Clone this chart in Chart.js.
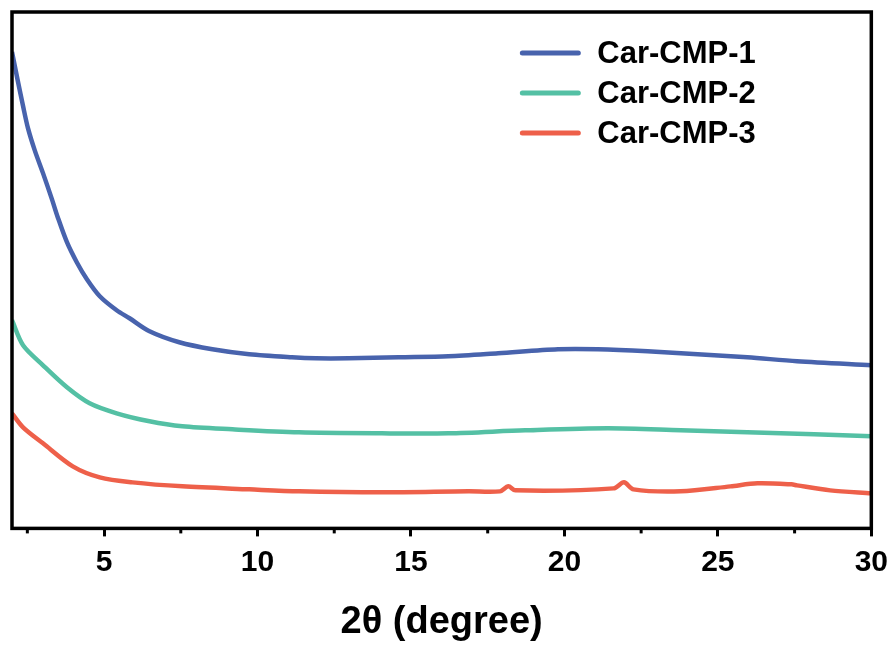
<!DOCTYPE html>
<html>
<head>
<meta charset="utf-8">
<script src="https://cdn.jsdelivr.net/npm/chart.js@4"></script>
<style>
  html, body { margin: 0; padding: 0; background: #fff; }
  #wrap { width: 896px; height: 645px; }
</style>
</head>
<body>
<div id="wrap"><canvas id="xrd-chart" width="896" height="645"></canvas></div>
<script>
// 2theta positions (degree) and intensity (a.u.)
const cmp1Theta = [2.0, 2.19, 2.36, 2.52, 2.75, 3.01, 3.3, 3.49, 3.79, 4.11, 4.44, 4.86, 5.41, 5.83, 6.48, 7.45, 8.53, 9.73, 11.12, 11.9, 12.97, 14.6, 16.22, 17.84, 19.79, 21.09, 22.71, 24.34, 25.96, 27.58, 30.0];
const cmp1Int   = [476, 447, 422, 400, 377, 355, 329, 311, 286, 266, 249, 232, 218, 210, 197, 186, 179, 174, 171, 170, 170, 171, 172, 175, 179, 179, 177, 174, 171, 167, 163];

const cmp2Theta = [2.0, 2.36, 3.01, 3.79, 4.53, 5.41, 6.48, 7.55, 9.18, 11.35, 14.05, 16.22, 18.72, 21.42, 23.79, 25.96, 28.14, 30.0];
const cmp2Int   = [208, 183, 163, 141, 125, 115, 107, 102, 99, 96, 95, 95, 98, 100, 98, 96, 94, 92];

const cmp3Theta = [2.0, 2.36, 3.01, 3.98, 4.86, 5.93, 7.55, 9.73, 11.35, 14.05, 16.87, 17.9, 18.17, 18.4, 21.6, 21.94, 22.25, 23.79, 25.41, 26.29, 27.4, 27.58, 28.66, 30.0];
const cmp3Int   = [115, 101, 85, 62, 51, 46, 42, 39, 37, 36, 37, 37, 42, 38, 40, 46, 39, 37, 42, 45, 44, 43, 38, 35];

const seriesNames = ["Car-CMP-1", "Car-CMP-2", "Car-CMP-3"];
const seriesColors = ["#4863ad", "#54c0a4", "#ee604a"];
const xTicks = [5, 10, 15, 20, 25, 30];
const xMinorTicks = [2.5, 7.5, 12.5, 17.5, 22.5, 27.5];

function toPoints(xs, ys) {
  return xs.map((x, i) => ({ x, y: ys[i] }));
}

const frameAndLegend = {
  id: "frameAndLegend",
  afterDraw(chart) {
    const { ctx, chartArea } = chart;
    const xScale = chart.scales.x;
    ctx.save();
    // minor ticks
    ctx.strokeStyle = "#000";
    ctx.lineWidth = 3;
    xMinorTicks.forEach((v) => {
      const px = xScale.getPixelForValue(v);
      ctx.beginPath();
      ctx.moveTo(px, chartArea.bottom);
      ctx.lineTo(px, chartArea.bottom + 5);
      ctx.stroke();
    });
    // box
    ctx.lineWidth = 3.5;
    ctx.strokeRect(chartArea.left, chartArea.top, chartArea.right - chartArea.left, chartArea.bottom - chartArea.top);

    // legend
    const x0 = chartArea.right - 349;
    ctx.font = "bold 31px Arial, 'Liberation Sans', sans-serif";
    ctx.textBaseline = "middle";
    ctx.lineCap = "round";
    chart.data.datasets.forEach((ds, i) => {
      const y = 53 + i * 40;
      ctx.strokeStyle = ds.borderColor;
      ctx.lineWidth = 5;
      ctx.beginPath();
      ctx.moveTo(x0, y);
      ctx.lineTo(x0 + 56, y);
      ctx.stroke();
      ctx.fillStyle = "#000";
      ctx.fillText(ds.label, x0 + 75, y + 1);
    });
    ctx.restore();
  },
};

const datasets = [
  toPoints(cmp1Theta, cmp1Int),
  toPoints(cmp2Theta, cmp2Int),
  toPoints(cmp3Theta, cmp3Int),
].map((data, i) => ({
  label: seriesNames[i],
  data,
  borderColor: seriesColors[i],
  backgroundColor: seriesColors[i],
  borderWidth: 4.5,
  pointRadius: 0,
  tension: 0.3,
}));

new Chart(document.getElementById("xrd-chart"), {
  type: "line",
  data: { datasets },
  options: {
    responsive: false,
    animation: false,
    layout: { padding: { left: 12, top: 12, right: 22, bottom: 0 } },
    plugins: {
      legend: { display: false },
      tooltip: { enabled: false },
    },
    scales: {
      x: {
        type: "linear",
        min: 2,
        max: 30,
        afterBuildTicks: (axis) => {
          axis.ticks = xTicks.map((v) => ({ value: v }));
        },
        border: { display: false },
        grid: {
          drawOnChartArea: false,
          drawTicks: true,
          tickLength: 8,
          tickWidth: 3,
          tickColor: "#000",
        },
        ticks: {
          color: "#000",
          padding: 8,
          maxRotation: 0,
          font: { family: "Arial, 'Liberation Sans', sans-serif", size: 30, weight: "bold" },
        },
        title: {
          display: true,
          text: "2θ (degree)",
          color: "#000",
          padding: { top: 11, bottom: 0 },
          font: { family: "Arial, 'Liberation Sans', sans-serif", size: 38, weight: "bold" },
        },
      },
      y: {
        display: false,
        min: 0,
        max: 516,
      },
    },
  },
  plugins: [frameAndLegend],
});
</script>
</body>
</html>
